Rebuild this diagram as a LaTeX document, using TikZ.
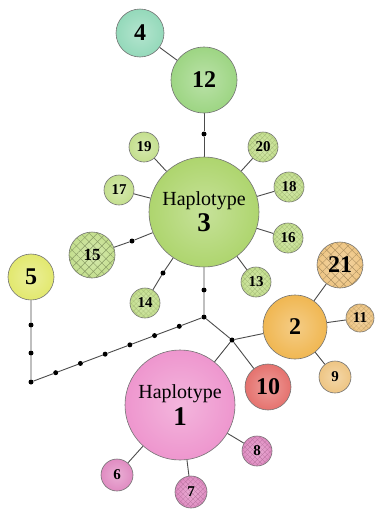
\documentclass[tikz,border=0pt]{standalone}
\usepackage{fontspec}
\setmainfont{Liberation Serif}
\usetikzlibrary{patterns.meta,backgrounds,calc}
\definecolor{cmint}{HTML}{94D9BA}
\definecolor{cgreen}{HTML}{9DD583}
\definecolor{cthree}{HTML}{AED56E}
\definecolor{csat}{HTML}{C4DF8E}
\definecolor{cyel}{HTML}{E2E86E}
\definecolor{ctan}{HTML}{EEC583}
\definecolor{corange}{HTML}{F0B752}
\definecolor{cred}{HTML}{E5726E}
\definecolor{cpink}{HTML}{EE96CE}
\definecolor{cpinks}{HTML}{E08CC2}
\newcommand\hapbig{\fontsize{24}{24}\selectfont\bfseries}
\newcommand\hapmid{\fontsize{17}{17}\selectfont\bfseries}
\newcommand\hapsml{\fontsize{15}{15}\selectfont\bfseries}
\tikzset{
  hnode/.style 2 args={circle, draw=black!55, line width=0.6pt, inner sep=0pt,
     minimum size=#1, shade, shading=radial, inner color=#2!70!white, outer color=#2},
  xh/.style n args={3}{
     postaction={pattern={Lines[angle=45,distance=#2,line width=#3]}, pattern color=#1},
     postaction={pattern={Lines[angle=-45,distance=#2,line width=#3]}, pattern color=#1}},
  jdot/.style={circle, fill=black, inner sep=0pt, minimum size=5pt},
  link/.style={draw=black!70, line width=0.9pt},
}
\begin{document}
\begin{tikzpicture}[x=1pt,y=-1pt]
\useasboundingbox (0,0) rectangle (376,509);
% top
\node[hnode={48pt}{cmint}, font=\hapbig] (n4) at (140,33) {4};
\node[hnode={66pt}{cgreen}, font=\hapbig] (n12) at (204,80) {12};
\node[jdot] (dA) at (204,134) {};
\node[hnode={110pt}{cthree}, align=center] (h3) at (204,212)
  {\fontsize{20}{20}\selectfont Haplotype\\[3pt]{\fontsize{27}{27}\selectfont\bfseries 3}};
\node[hnode={30pt}{csat}, font=\hapsml] (n19) at (144,147) {19};
\node[hnode={30pt}{csat}, font=\hapsml, xh={csat!82!black}{3.5pt}{0.25pt}] (n20) at (263,147) {20};
\node[hnode={30pt}{csat}, font=\hapsml] (n17) at (119,190) {17};
\node[hnode={30pt}{csat}, font=\hapsml, xh={csat!82!black}{3.5pt}{0.25pt}] (n18) at (289,187) {18};
\node[hnode={30pt}{csat}, font=\hapsml, xh={csat!82!black}{3.5pt}{0.25pt}] (n16) at (288,238) {16};
\node[hnode={46pt}{csat}, font=\hapmid, xh={csat!68!black}{6pt}{0.45pt}] (n15) at (92,255) {15};
\node[jdot] (dB) at (132,241) {};
\node[hnode={30pt}{csat}, font=\hapsml, xh={csat!82!black}{3.5pt}{0.25pt}] (n13) at (256,282) {13};
\node[hnode={30pt}{csat}, font=\hapsml, xh={csat!82!black}{3.5pt}{0.25pt}] (n14) at (145,303) {14};
\node[jdot] (dC) at (163,273) {};
% left
\node[hnode={46pt}{cyel}, font=\hapbig] (n5) at (31,277) {5};
\node[jdot] (e1) at (31,325) {};
\node[jdot] (e2) at (31,353) {};
\node[jdot] (e3) at (31,382) {};
% centre
\node[jdot] (dD) at (204,290) {};
\node[jdot] (J1) at (204,317) {};
\node[jdot] (J2) at (232,340) {};
\foreach \k in {1,...,6}{
  \node[jdot] (f\k) at ($(e3)!\k/7!(J1)$) {};
}
% right
\node[hnode={64pt}{corange}, font=\hapbig] (n2) at (295,327) {2};
\node[hnode={46pt}{ctan}, font=\hapbig, xh={ctan!72!black}{6pt}{0.4pt}] (n21) at (340,265) {21};
\node[hnode={28pt}{ctan}, font=\hapsml, xh={ctan!82!black}{3.5pt}{0.25pt}] (n11) at (360,318) {11};
\node[hnode={32pt}{ctan}, font=\hapsml] (n9) at (335,377) {9};
\node[hnode={46pt}{cred}, font=\hapbig] (n10) at (268,387) {10};
% bottom
\node[hnode={110pt}{cpink}, align=center] (h1) at (180,405)
  {\fontsize{20}{20}\selectfont Haplotype\\[3pt]{\fontsize{27}{27}\selectfont\bfseries 1}};
\node[hnode={30pt}{cpinks}, font=\hapsml, xh={cpinks!82!black}{3.5pt}{0.25pt}] (n8) at (257,451) {8};
\node[hnode={32pt}{cpinks}, font=\hapsml, xh={cpinks!82!black}{3.5pt}{0.25pt}] (n7) at (191,492) {7};
\node[hnode={32pt}{cpinks}, font=\hapsml] (n6) at (117,475) {6};
\begin{scope}[on background layer]
  \fill[white] (0,0) rectangle (376,509);
  \draw[link] (n4) -- (n12);
  \draw[link] (n12) -- (dA) -- (h3);
  \foreach \s in {n19,n20,n17,n18,n16,n13} \draw[link] (h3) -- (\s);
  \draw[link] (h3) -- (dB) -- (n15);
  \draw[link] (h3) -- (dC) -- (n14);
  \draw[link] (h3) -- (dD) -- (J1) -- (J2);
  \draw[link] (n5) -- (e1) -- (e2) -- (e3) -- (f1) -- (f2) -- (f3) -- (f4) -- (f5) -- (f6) -- (J1);
  \draw[link] (J2) -- (n2);
  \draw[link] (J2) -- (n10);
  \draw[link] (J2) -- (h1);
  \draw[link] (n2) -- (n21);
  \draw[link] (n2) -- (n11);
  \draw[link] (n2) -- (n9);
  \draw[link] (h1) -- (n8);
  \draw[link] (h1) -- (n7);
  \draw[link] (h1) -- (n6);
\end{scope}
\end{tikzpicture}
\end{document}
